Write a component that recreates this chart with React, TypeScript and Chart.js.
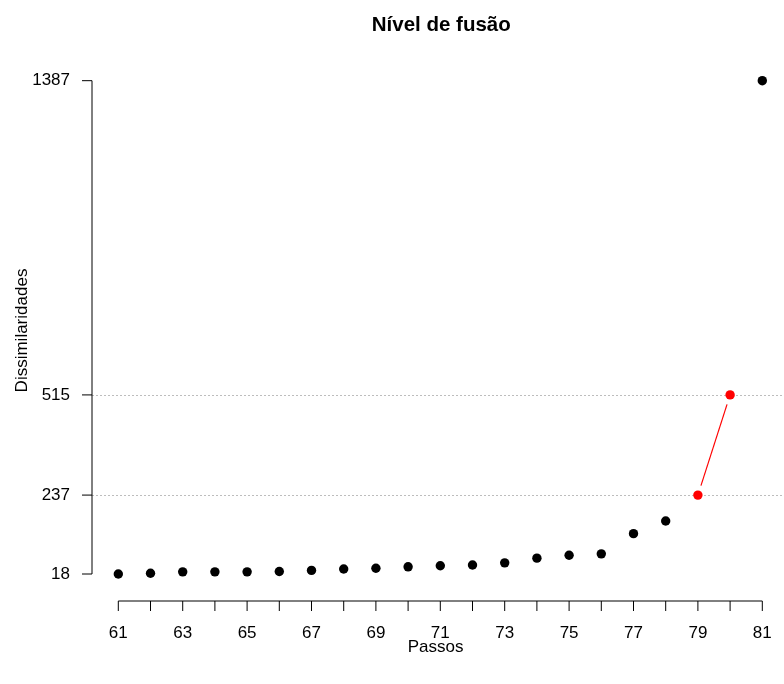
import React, { useEffect, useRef } from 'react';
import { Chart, registerables } from 'chart.js';

Chart.register(...registerables);

// ---- data ----
const steps: number[] = [61, 62, 63, 64, 65, 66, 67, 68, 69, 70, 71, 72, 73, 74, 75, 76, 77, 78, 79, 80, 81];
const dissimilarities: number[] = [18, 20, 24, 24, 24, 25, 28, 32, 34, 38, 41, 43, 49, 62, 70, 74, 130, 165, 237, 515, 1387];
const highlightedSteps: number[] = [79, 80];
const yTickValues: number[] = [18, 237, 515, 1387];
const referenceLines: number[] = [237, 515];
const xTickValues: number[] = steps;
const chartTitle = 'Nível de fusão';
const xAxisTitle = 'Passos';
const yAxisTitle = 'Dissimilaridades';

const FONT = "'Liberation Sans', Arial, Helvetica, sans-serif";

const rStylePlugin = {
  id: 'rStyle',
  beforeDatasetsDraw(chart: any) {
    const { ctx, chartArea, scales } = chart;
    const y = scales.y;
    ctx.save();
    ctx.strokeStyle = '#bdbdbd';
    ctx.lineWidth = 1;
    ctx.setLineDash([2, 2]);
    referenceLines.forEach((v) => {
      const py = Math.round(y.getPixelForValue(v)) + 0.5;
      ctx.beginPath();
      ctx.moveTo(chartArea.left, py);
      ctx.lineTo(chart.width, py);
      ctx.stroke();
    });
    ctx.restore();
  },
  afterDatasetsDraw(chart: any) {
    const { ctx } = chart;
    const meta = chart.getDatasetMeta(0);
    const pts = highlightedSteps
      .map((s) => steps.indexOf(s))
      .filter((i) => i >= 0)
      .map((i) => meta.data[i]);
    ctx.save();
    ctx.strokeStyle = '#ff0000';
    ctx.lineWidth = 1.2;
    const gap = 10;
    for (let k = 0; k < pts.length - 1; k++) {
      const a = pts[k];
      const b = pts[k + 1];
      const dx = b.x - a.x;
      const dy = b.y - a.y;
      const len = Math.sqrt(dx * dx + dy * dy);
      if (len <= 2 * gap) continue;
      const ux = dx / len;
      const uy = dy / len;
      ctx.beginPath();
      ctx.moveTo(a.x + ux * gap, a.y + uy * gap);
      ctx.lineTo(b.x - ux * gap, b.y - uy * gap);
      ctx.stroke();
    }
    ctx.restore();
  },
  afterDraw(chart: any) {
    const { ctx, chartArea, scales } = chart;
    const x = scales.x;
    const y = scales.y;
    const tickLen = 10;
    ctx.save();
    ctx.strokeStyle = '#000';
    ctx.lineWidth = 1;
    // y axis
    const ax = chartArea.left;
    const yTop = y.getPixelForValue(yTickValues[yTickValues.length - 1]);
    const yBot = y.getPixelForValue(yTickValues[0]);
    ctx.beginPath();
    ctx.moveTo(ax, yTop);
    ctx.lineTo(ax, yBot);
    yTickValues.forEach((v) => {
      const py = y.getPixelForValue(v);
      ctx.moveTo(ax - tickLen, py);
      ctx.lineTo(ax, py);
    });
    ctx.stroke();
    // x axis
    const ay = chartArea.bottom;
    const xL = x.getPixelForValue(xTickValues[0]);
    const xR = x.getPixelForValue(xTickValues[xTickValues.length - 1]);
    ctx.beginPath();
    ctx.moveTo(xL, ay);
    ctx.lineTo(xR, ay);
    xTickValues.forEach((v) => {
      const px = x.getPixelForValue(v);
      ctx.moveTo(px, ay);
      ctx.lineTo(px, ay + tickLen);
    });
    ctx.stroke();
    // title, centred over the plot region
    const mid = x.getPixelForValue((xTickValues[0] + xTickValues[xTickValues.length - 1]) / 2) + 1;
    ctx.fillStyle = '#000';
    ctx.font = `bold 20.5px ${FONT}`;
    ctx.textAlign = 'center';
    ctx.textBaseline = 'middle';
    ctx.fillText(chartTitle, mid, 25);
    ctx.restore();
  },
};

export default function App() {
  const canvasRef = useRef<HTMLCanvasElement | null>(null);

  useEffect(() => {
    const canvas = canvasRef.current;
    if (!canvas) return;
    Chart.defaults.font.family = FONT;
    Chart.defaults.color = '#000';

    const pointColors = steps.map((s) => (highlightedSteps.includes(s) ? '#ff0000' : '#000000'));

    const chart = new Chart(canvas, {
      type: 'scatter',
      data: {
        datasets: [
          {
            data: steps.map((s, i) => ({ x: s, y: dissimilarities[i] })),
            pointBackgroundColor: pointColors,
            pointBorderColor: pointColors,
            pointBorderWidth: 0,
            pointRadius: 4.7,
            showLine: false,
          },
        ],
      },
      options: {
        animation: false,
        responsive: false,
        maintainAspectRatio: false,
        layout: { padding: { top: 60, left: 0, right: 0, bottom: 0 } },
        plugins: {
          legend: { display: false },
          tooltip: { enabled: false },
          title: { display: false },
        },
        scales: {
          x: {
            type: 'linear',
            min: 60.183,
            max: 81.528,
            afterBuildTicks: (scale: any) => {
              scale.ticks = xTickValues.map((v) => ({ value: v }));
            },
            afterFit: (scale: any) => {
              scale.height = 83;
              scale.paddingLeft = 0;
              scale.paddingRight = 0;
            },
            ticks: {
              autoSkip: false,
              maxRotation: 0,
              minRotation: 0,
              padding: 22,
              color: '#000',
              font: { family: FONT, size: 17 },
              callback: (v: any) => (Number(v) % 2 === 1 ? String(v) : ''),
            },
            grid: { display: false, drawTicks: false },
            border: { display: false },
            title: {
              display: true,
              text: xAxisTitle,
              color: '#000',
              font: { family: FONT, size: 17 },
              padding: { top: 26.8, bottom: 26.8 },
            },
          },
          y: {
            type: 'linear',
            min: -56.9,
            max: 1444.4,
            afterBuildTicks: (scale: any) => {
              scale.ticks = yTickValues.map((v) => ({ value: v }));
            },
            afterFit: (scale: any) => {
              scale.width = 92;
              scale.paddingTop = 0;
              scale.paddingBottom = 0;
            },
            ticks: {
              autoSkip: false,
              padding: 22,
              color: '#000',
              font: { family: FONT, size: 17 },
              callback: (v: any) => String(v),
            },
            grid: { display: false, drawTicks: false },
            border: { display: false },
            title: {
              display: true,
              text: yAxisTitle,
              color: '#000',
              font: { family: FONT, size: 17 },
              padding: { top: 11.8, bottom: 11.8 },
            },
          },
        },
      },
      plugins: [rStylePlugin],
    } as any);

    return () => {
      chart.destroy();
    };
  }, []);

  return (
    <div style={{ position: 'fixed', left: 0, top: 0, width: 784, height: 684, background: '#fff' }}>
      <canvas ref={canvasRef} width={784} height={684} style={{ display: 'block' }} />
    </div>
  );
}
